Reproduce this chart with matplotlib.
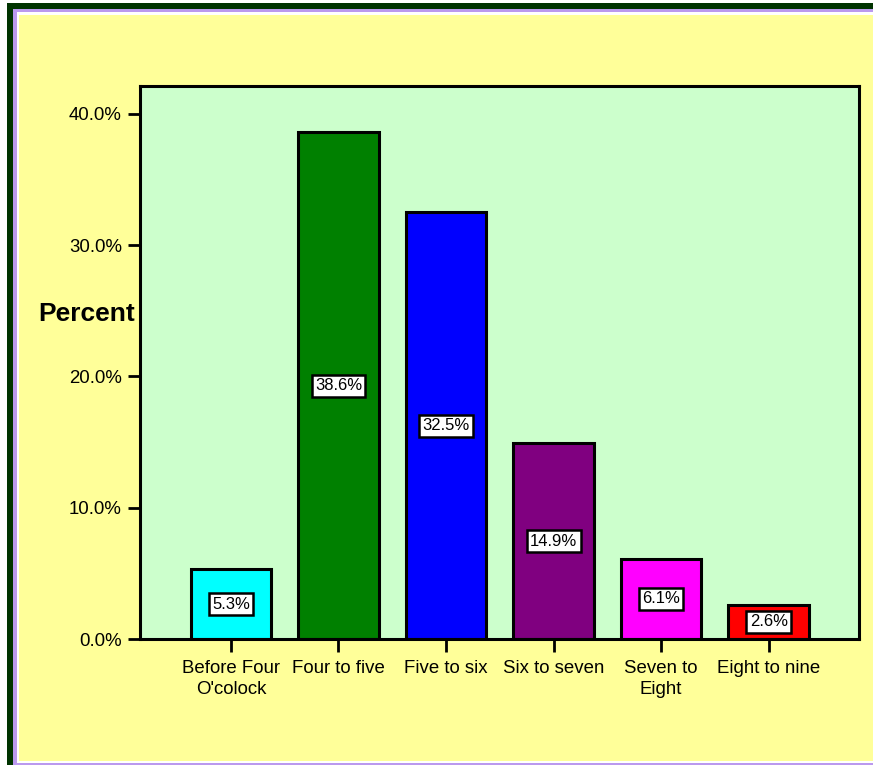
import matplotlib.pyplot as plt
from matplotlib.patches import Rectangle

categories = ["Before Four\nO'colock", "Four to five", "Five to six",
              "Six to seven", "Seven to\nEight", "Eight to nine"]
percents = [5.3, 38.6, 32.5, 14.9, 6.1, 2.6]
bar_colors = ["#00FFFF", "#008000", "#0000FF", "#800080", "#FF00FF", "#FF0000"]
y_ticks = [0, 10, 20, 30, 40]

plt.rcParams['font.family'] = ['Liberation Sans', 'DejaVu Sans']

W, H = 873, 765
fig = plt.figure(figsize=(W / 100, H / 100), dpi=100, facecolor="white")


def frame(x, y, color):
    # block from pixel (x, y) down to the bottom and past the right edge
    fig.patches.append(Rectangle((x / W, 0), 1.2, 1 - y / H, transform=fig.transFigure,
                                 facecolor=color, edgecolor="none", zorder=-10))


frame(7, 3, "#003300")
frame(13, 9, "#BB99EE")
frame(17, 12, "white")
frame(19, 15, "#FFFF99")
# bottom edge lines
fig.patches.append(Rectangle((13 / W, 0), 1.2, 2 / H, transform=fig.transFigure,
                             facecolor="#BB99EE", edgecolor="none", zorder=-9))
fig.patches.append(Rectangle((17 / W, 2 / H), 1.2, 2 / H, transform=fig.transFigure,
                             facecolor="white", edgecolor="none", zorder=-9))

ax = fig.add_axes([140 / W, 1 - 639 / H, (859 - 140) / W, (639 - 86) / H])
ax.set_facecolor("#CCFFCC")

x = list(range(len(categories)))
ax.bar(x, percents, width=0.75, color=bar_colors, edgecolor="black", linewidth=2.2, zorder=2)

for xi, p in zip(x, percents):
    ax.text(xi, p / 2, f"{p:.1f}%", ha="center", va="center", fontsize=12, zorder=3,
            bbox=dict(boxstyle="square,pad=0.2", facecolor="white", edgecolor="black", linewidth=1.8))

ax.set_xlim(-0.845, 5.84)
ax.set_ylim(0, 42.13)
ax.set_xticks(x)
ax.set_xticklabels(categories, fontsize=13.4, linespacing=1.3)
ax.set_yticks(y_ticks)
ax.set_yticklabels([f"{v:.1f}%" for v in y_ticks], fontsize=13.4)
ax.tick_params(axis="both", direction="out", length=9, width=2, colors="black", pad=4)
ax.tick_params(axis="x", pad=6)
for s in ax.spines.values():
    s.set_linewidth(2.2)

fig.text(87 / W, 1 - 314 / H, "Percent", fontsize=19, fontweight="bold", ha="center", va="center")

fig.savefig("out.png", dpi=100, facecolor=fig.get_facecolor())
